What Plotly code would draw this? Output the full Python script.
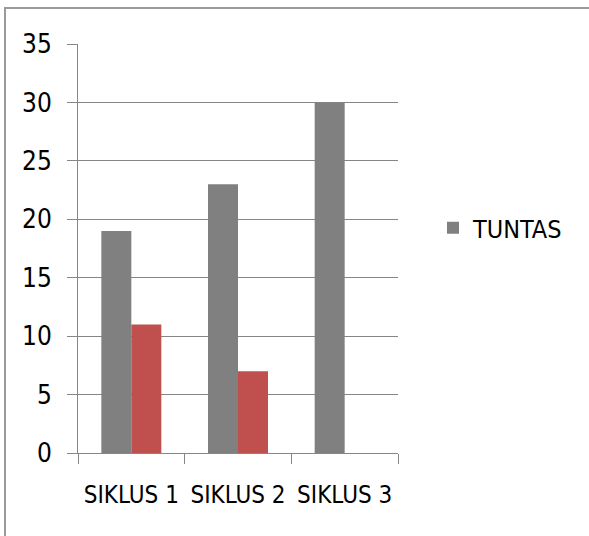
import plotly.graph_objects as go

categories = ["SIKLUS 1", "SIKLUS 2", "SIKLUS 3"]
tuntas = [19, 23, 30]
tidak_tuntas = [11, 7, 0]
y_ticks = [0, 5, 10, 15, 20, 25, 30, 35]

W, H = 589, 536
L, R, T, B = 78, 191, 44, 83
pw, ph = W - L - R, H - T - B

def px_x(p):
    return (p - L) / pw

def px_y(p):
    return (H - B - p) / ph

FONT = "DejaVu Sans Condensed, Liberation Sans Narrow, Arial Narrow, sans-serif"

fig = go.Figure()
fig.add_trace(go.Bar(x=categories, y=tuntas, name="TUNTAS", marker_color="#808080", marker_line_width=0))
fig.add_trace(go.Bar(x=categories, y=tidak_tuntas, name="TIDAK TUNTAS", marker_color="#C0504D",
                     marker_line_width=0, showlegend=False))

fig.update_layout(
    width=W, height=H,
    margin=dict(l=L, r=R, t=T, b=B, pad=0, autoexpand=False),
    paper_bgcolor="white", plot_bgcolor="white",
    barmode="group", bargap=0.4375, bargroupgap=0,
    font=dict(family=FONT, size=24, color="black"),
    legend=dict(x=px_x(433), y=px_y(228), xanchor="left", yanchor="middle",
                font=dict(family=FONT, size=25, color="black"), bgcolor="rgba(0,0,0,0)"),
    xaxis=dict(type="category", tickson="boundaries", ticks="outside", ticklen=10,
               tickcolor="#868686", showline=True, linecolor="#868686", linewidth=1,
               showgrid=False, tickfont=dict(family=FONT, size=24), ticklabelstandoff=20,
               tickangle=0, automargin=False),
    yaxis=dict(range=[0, 35], tickvals=y_ticks, ticks="outside", ticklen=10,
               tickcolor="#868686", showline=True, linecolor="#868686", linewidth=1,
               showgrid=True, gridcolor="#868686", gridwidth=1, zeroline=False,
               tickfont=dict(family=FONT, size=26), ticklabelstandoff=10, automargin=False),
    shapes=[dict(type="rect", xref="paper", yref="paper",
                 x0=px_x(5), x1=px_x(W + 20), y0=px_y(H + 20), y1=px_y(8),
                 line=dict(color="#9a9a9a", width=2), fillcolor="rgba(0,0,0,0)", layer="below")],
)

fig.write_html("out.html")
